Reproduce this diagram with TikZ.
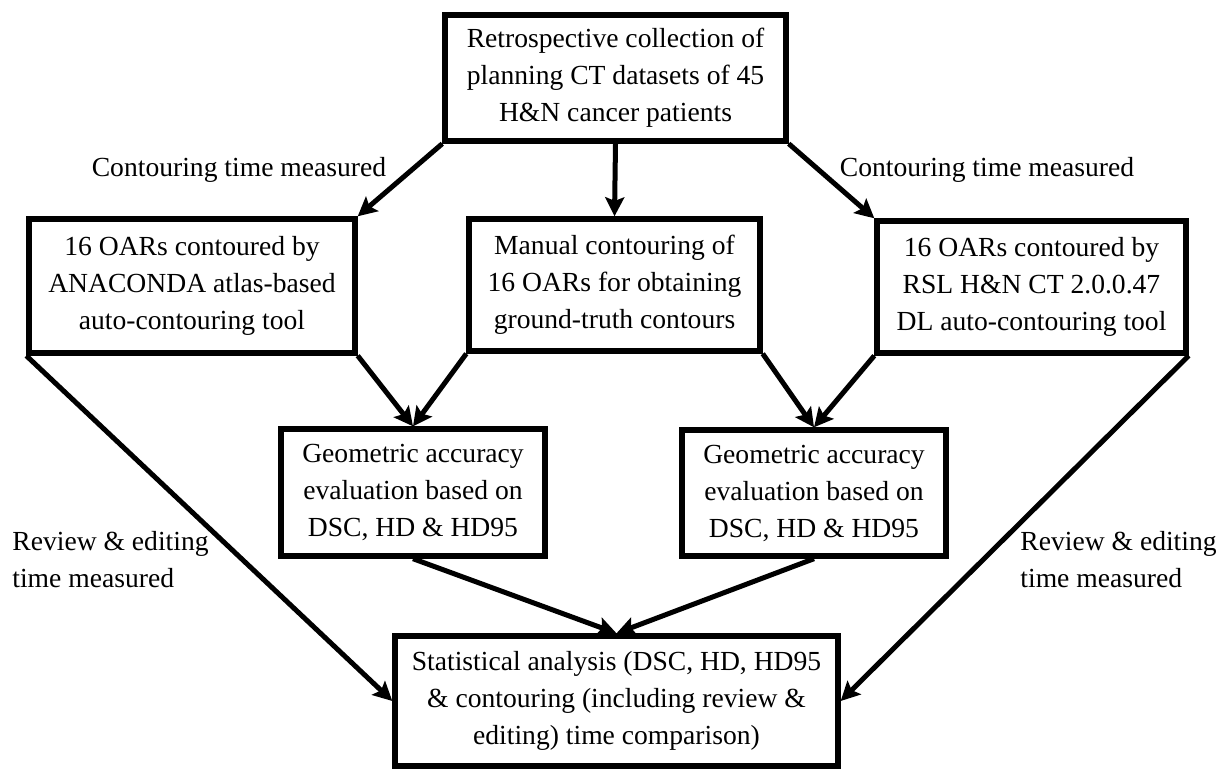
\documentclass[tikz,border=0pt]{standalone}
\usepackage{fontspec}
\setmainfont{Liberation Serif}
\usetikzlibrary{arrows.meta}

\tikzset{
  stepbox/.style={draw, line width=2.7pt, align=center, inner sep=0pt,
    font=\fontsize{13.8}{18.5}\selectfont},
  flowarrow/.style={line width=2.5pt,
    -{Stealth[length=9.5pt,width=9.5pt,inset=1.8pt]}},
  note/.style={font=\fontsize{13.8}{18.5}\selectfont, inner sep=0pt}
}

\begin{document}
\begin{tikzpicture}[x=0.5pt,y=-0.5pt]
    \useasboundingbox (0,0) rectangle (1220,769);

    % boxes
    \node[stepbox, minimum width=170.5pt, minimum height=63pt] (collect) at (615.5,78)
        {Retrospective collection of\\planning CT datasets of 45\\H\&N cancer patients};
    \node[stepbox, minimum width=163pt, minimum height=67pt] (atlas) at (192,286)
        {16 OARs contoured by\\ANACONDA atlas-based\\auto-contouring tool};
    \node[stepbox, minimum width=145.5pt, minimum height=66pt] (manual) at (614.5,285)
        {Manual contouring of\\16 OARs for obtaining\\ground-truth contours};
    \node[stepbox, minimum width=154.5pt, minimum height=66pt] (dl) at (1031.5,287)
        {16 OARs contoured by\\RSL H\&N CT 2.0.0.47\\DL auto-contouring tool};
    \node[stepbox, minimum width=132pt, minimum height=63.5pt] (geomA) at (413,492.5)
        {Geometric accuracy\\evaluation based on\\DSC, HD \& HD95};
    \node[stepbox, minimum width=132pt, minimum height=63pt] (geomB) at (814,493)
        {Geometric accuracy\\evaluation based on\\DSC, HD \& HD95};
    \node[stepbox, minimum width=221.5pt, minimum height=65pt] (stats) at (616.5,701)
        {Statistical analysis (DSC, HD, HD95\\\& contouring (including review \&\\editing) time comparison)};

    % labels
    \node[note] (ctA) at (239,170) {Contouring time measured};
    \node[note] (ctB) at (987,170) {Contouring time measured};
    \node[note, anchor=west, align=left] (reA) at (12,559.5) {Review \& editing\\time measured};
    \node[note, anchor=west, align=left] (reB) at (1020,559.5) {Review \& editing\\time measured};

    % arrows
    \draw[flowarrow] (collect.south west) -- (atlas.north east);
    \draw[flowarrow] (collect.south) -- (manual.north);
    \draw[flowarrow] (collect.south east) -- (dl.north west);

    \draw[flowarrow] (atlas.south east) -- (geomA.north);
    \draw[flowarrow] (manual.south west) -- (geomA.north);
    \draw[flowarrow] (manual.south east) -- (geomB.north);
    \draw[flowarrow] (dl.south west) -- (geomB.north);

    \draw[flowarrow] (geomA.south) -- (stats.north);
    \draw[flowarrow] (geomB.south) -- (stats.north);
    \draw[flowarrow] (atlas.south west) -- (stats.west);
    \draw[flowarrow] (dl.south east) -- (stats.east);

\end{tikzpicture}
\end{document}
